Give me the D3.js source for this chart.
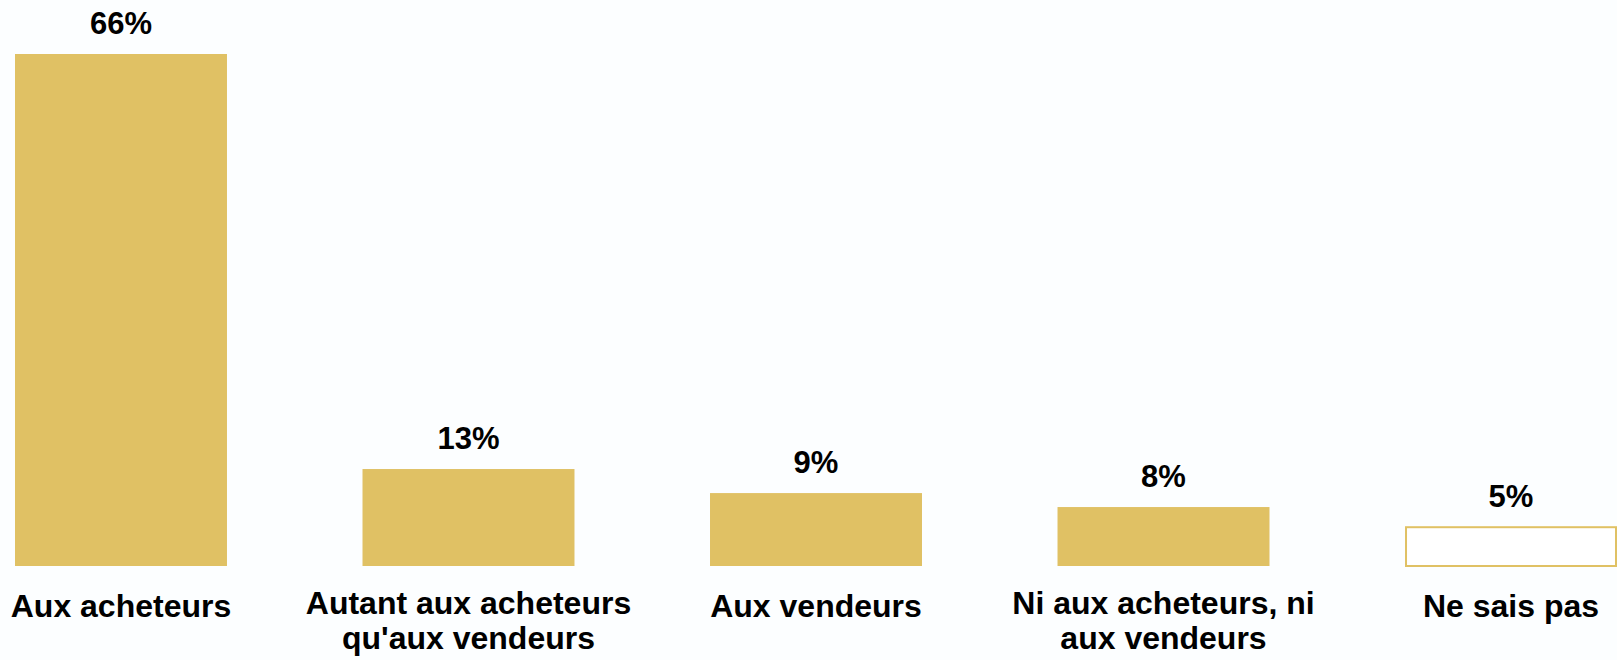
<!DOCTYPE html>
<html>
<head>
<meta charset="utf-8">
<script src="https://cdn.jsdelivr.net/npm/d3@7"></script>
<style>
  html, body { margin: 0; padding: 0; background: #fcfeff; }
  svg { display: block; }
  text { font-family: "Liberation Sans", Arial, sans-serif; font-weight: bold; fill: #000; }
</style>
</head>
<body>
<svg id="chart" width="1617" height="660"></svg>
<script>
const categories = [
  ["Aux acheteurs"],
  ["Autant aux acheteurs", "qu'aux vendeurs"],
  ["Aux vendeurs"],
  ["Ni aux acheteurs, ni", "aux vendeurs"],
  ["Ne sais pas"]
];
const values = [66, 12.5, 9.4, 7.6, 5];
const valueLabels = ["66%", "13%", "9%", "8%", "5%"];
const outlined = [false, false, false, false, true];

const W = 1617, H = 660;
const baseY = 566, topY = 54;
const gold = "#e0c164";

const svg = d3.select("#chart");
svg.append("rect").attr("width", W).attr("height", H).attr("fill", "#fcfeff");

const x = d3.scaleBand()
  .domain(d3.range(values.length))
  .range([15, 1617])
  .paddingInner(0.39)
  .paddingOuter(0);

const y = d3.scaleLinear()
  .domain([0, 66])
  .range([baseY, topY]);

const g = svg.append("g");

g.selectAll("rect.bar")
  .data(values)
  .join("rect")
  .attr("class", "bar")
  .attr("x", (d, i) => outlined[i] ? x(i) + 1 : x(i))
  .attr("y", d => y(d))
  .attr("width", (d, i) => outlined[i] ? x.bandwidth() - 2 : x.bandwidth())
  .attr("height", d => baseY - y(d))
  .attr("fill", (d, i) => outlined[i] ? "#ffffff" : gold)
  .attr("stroke", (d, i) => outlined[i] ? gold : "none")
  .attr("stroke-width", 2);

g.selectAll("text.val")
  .data(values)
  .join("text")
  .attr("class", "val")
  .attr("x", (d, i) => x(i) + x.bandwidth() / 2)
  .attr("y", d => y(d) - 20)
  .attr("text-anchor", "middle")
  .style("font-size", "31px")
  .text((d, i) => valueLabels[i]);

const labels = g.selectAll("text.cat")
  .data(categories)
  .join("text")
  .attr("class", "cat")
  .attr("text-anchor", "middle")
  .style("font-size", "32px")
  .attr("x", (d, i) => x(i) + x.bandwidth() / 2)
  .attr("y", d => d.length > 1 ? 614 : 617);

labels.selectAll("tspan")
  .data((d, i) => d.map(t => ({ t, i })))
  .join("tspan")
  .attr("x", d => x(d.i) + x.bandwidth() / 2)
  .attr("dy", (d, j) => j === 0 ? 0 : 35)
  .text(d => d.t);
</script>
</body>
</html>
